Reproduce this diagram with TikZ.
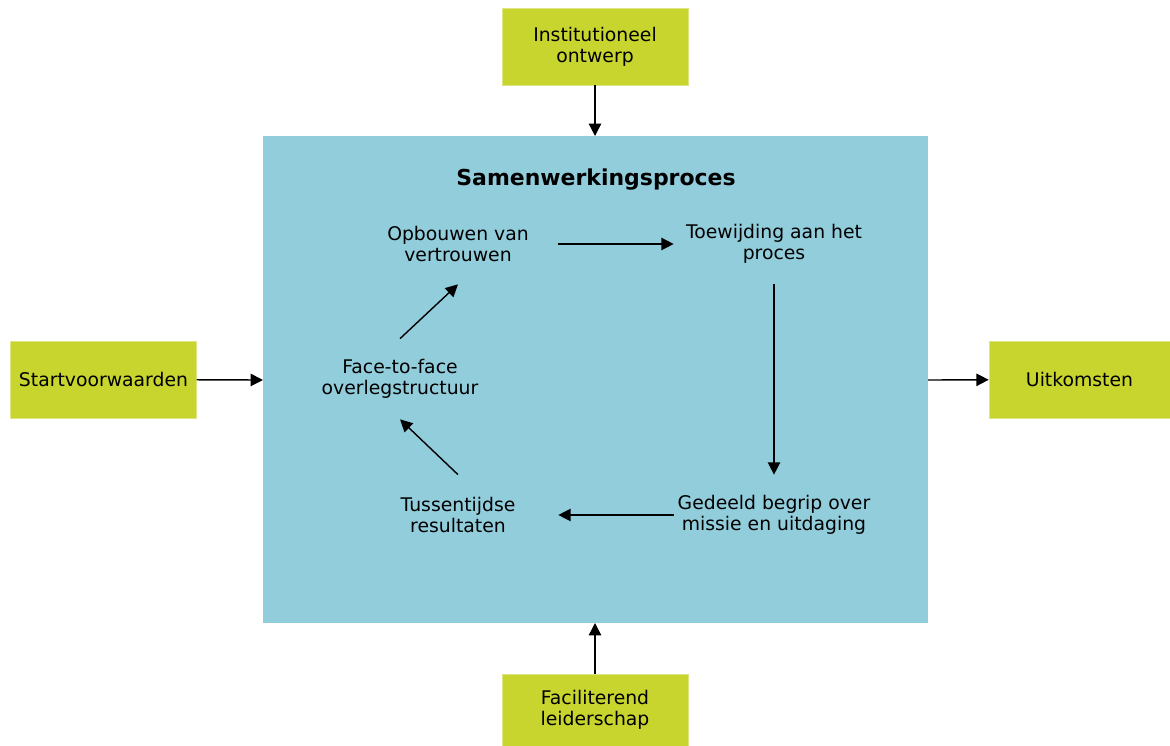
\documentclass[tikz,border=0pt]{standalone}
\usepackage{fontspec}
\setmainfont{DejaVu Sans}
\usetikzlibrary{arrows.meta}
\definecolor{procesblauw}{HTML}{92CDDC}
\definecolor{kadergroen}{HTML}{C8D52F}
\begin{document}
\begin{tikzpicture}[x=0.02cm,y=-0.02cm,
    kader/.style={fill=kadergroen,draw=kadergroen!60!white,line width=0.3pt,
      minimum width=3.72cm,minimum height=1.54cm,align=center,
      font=\fontsize{10.7}{12}\selectfont},
    stap/.style={minimum width=4cm,minimum height=1.6cm,inner sep=0pt,
      align=center,font=\fontsize{10.7}{12}\selectfont},
    pijl/.style={-{Triangle[length=7pt,width=7pt]},line width=0.8pt}]
  \useasboundingbox (0,0) rectangle (1170,746);
  \fill[procesblauw] (263,136) rectangle (928,623);
  \draw
    (595,46.5) node[kader] (inst){Institutioneel\\ontwerp}
    (103.5,379.5) node[kader] (start){Startvoorwaarden}
    (1079.5,379.5) node[kader,minimum width=3.62cm] (uit){Uitkomsten}
    (595,710) node[kader,minimum height=1.44cm] (fac){Faciliterend\\leiderschap};
  \draw
    (595,136) coordinate (bovenkant)
    (263,380) coordinate (linkerkant)
    (928,380) coordinate (rechterkant)
    (595,623) coordinate (onderkant);
  \node[font=\fontsize{12.5}{14}\selectfont\bfseries] (titel) at (596,180) {Samenwerkingsproces};
  \draw
    (458,244) node[stap] (opb){Opbouwen van\\vertrouwen}
    (774,244) node[stap] (toe){Toewijding aan het\\proces}
    (774,515) node[stap] (ged){Gedeeld begrip over\\missie en uitdaging}
    (458,515) node[stap] (tus){Tussentijdse\\resultaten}
    (400,379) node[stap] (ftf){Face-to-face\\overlegstructuur};
  \begin{scope}[pijl]
    \draw (inst) to (bovenkant);
    \draw (start) to (linkerkant);
    \draw (rechterkant) to (uit);
    \draw (fac) to (onderkant);
    \draw (opb) to (toe);
    \draw (toe) to (ged);
    \draw (ged) to (tus);
    \draw (tus.north) to (ftf.south);
    \draw (ftf.north) to (opb.south);
  \end{scope}
\end{tikzpicture}
\end{document}
